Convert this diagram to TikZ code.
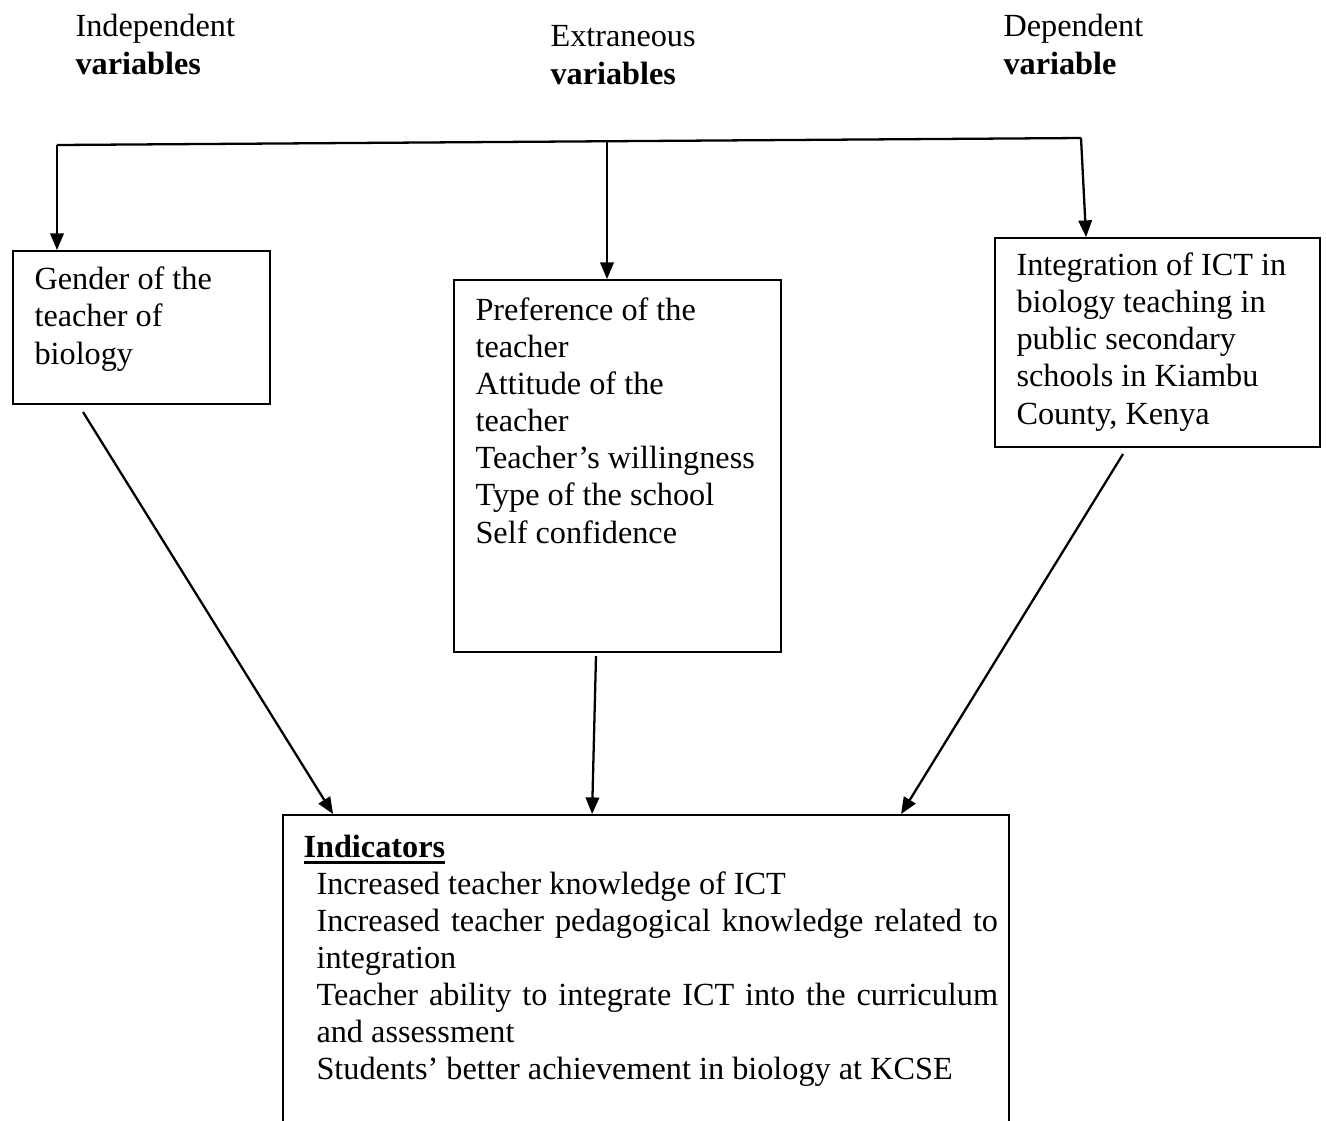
\documentclass[tikz,border=0pt]{standalone}
\usepackage{fontspec}
\setmainfont{Liberation Serif}
\usetikzlibrary{arrows.meta,calc,fit}

\begin{document}
\begin{tikzpicture}[x=0.372pt,y=0.372pt,yscale=-1,xscale=1,
  every node/.style={font=\fontsize{12}{13.8}\selectfont},
  box/.style={draw,line width=0.7pt,inner sep=0pt},
  txt/.style={anchor=base west,inner sep=0pt,align=left},
  arr/.style={line width=0.85pt,-{Triangle[length=6.2pt,width=5pt]}}]
\useasboundingbox (0,0) rectangle (1326,1120);
\clip (0,0) rectangle (1326,1120);
%Shape: Rectangle [gender]
\node[box,fit={(13,251) (270,404)}] (gen) {};
%Shape: Rectangle [extraneous]
\node[box,fit={(454,280) (781,652)}] (ext) {};
%Shape: Rectangle [dependent]
\node[box,fit={(995,238) (1320,447)}] (dep) {};
%Shape: Rectangle [indicators]
\node[box,fit={(283,815) (1009,1150)}] (ind) {};
% Text Node (base = last line)
\node[txt] (hInd) at (75,74) {Independent\\\textbf{variables}};
% Text Node
\node[txt] (hExt) at (550,84) {Extraneous\\\textbf{variables}};
% Text Node
\node[txt] (hDep) at (1003,74) {Dependent\\\textbf{variable}};
% Text Node
\node[txt] (tGen) at (34,364) {Gender of the\\teacher of\\biology};
% Text Node
\node[txt] (tExt) at (475,543) {Preference of the\\teacher\\Attitude of the\\teacher\\Teacher’s willingness\\Type of the school\\Self confidence};
% Text Node
\node[txt] (tDep) at (1016,424) {Integration of ICT in\\biology teaching in\\public secondary\\schools in Kiambu\\County, Kenya};
% Text Node
\node[txt] (tHead) at (303,857) {\setbox0\hbox{\textbf{Indicators}}\rlap{\rule[-2.6pt]{\wd0}{1.1pt}}\box0};
% Text Node (text width: base = first line)
\node[txt,text width=253.5pt,align=justify] (tInd) at (316,894) {Increased teacher knowledge of ICT\\
Increased teacher pedagogical knowledge related to integration\\
Teacher ability to integrate ICT into the curriculum and assessment\\
Students’ better achievement in biology at KCSE};
%Straight Lines [top rail]
\coordinate (tl) at (57,145);
\coordinate (tm) at (607,142);
\coordinate (tr) at (1081,138);
\draw[line width=0.85pt] (tl) -- (tr);
\draw[arr] (tl) -- (tl |- gen.north);
\draw[arr] (tm) -- (tm |- ext.north);
\draw[arr] (tr) -- ($(dep.north west)+(92,0)$);
%Straight Lines [to indicators]
\coordinate (gs) at (83,412);
\coordinate (es) at (596,656);
\coordinate (ds) at (1123,454);
\draw[arr] (gs) -- ($(ind.north west)+(51,0)$);
\draw[arr] (es) -- ($(ind.north west)+(310,0)$);
\draw[arr] (ds) -- ($(ind.north west)+(619,0)$);
\end{tikzpicture}
\end{document}
